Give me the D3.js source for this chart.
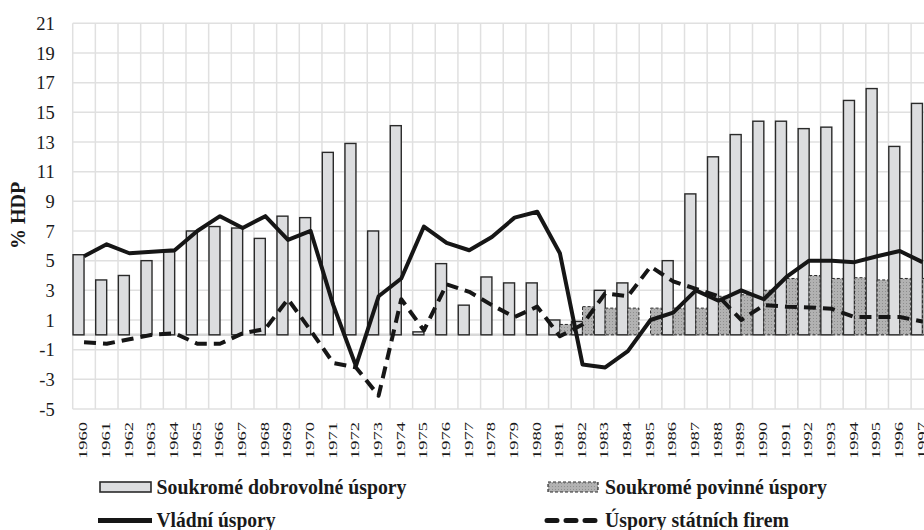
<!DOCTYPE html>
<html>
<head>
<meta charset="utf-8">
<script src="https://cdn.jsdelivr.net/npm/d3@7"></script>
<style>
  body { margin: 0; background: #fff; }
  svg { display: block; font-family: "Liberation Serif", "Times New Roman", serif; }
</style>
</head>
<body>
<div id="chart"></div>
<script>
// chart data (% HDP)
let years = ['1960','1961','1962','1963','1964','1965','1966','1967','1968','1969',
  '1970','1971','1972','1973','1974','1975','1976','1977','1978','1979',
  '1980','1981','1982','1983','1984','1985','1986','1987','1988','1989',
  '1990','1991','1992','1993','1994','1995','1996','1997'];

let voluntary = [5.4, 3.7, 4.0, 5.0, 5.6, 7.0, 7.3, 7.2, 6.5, 8.0,
  7.9, 12.3, 12.9, 7.0, 14.1, 0.2, 4.8, 2.0, 3.9, 3.5,
  3.5, 1.0, 0.9, 3.0, 3.5, 0.0, 5.0, 9.5, 12.0, 13.5,
  14.4, 14.4, 13.9, 14.0, 15.8, 16.6, 12.7, 15.6];

let mandatory = [null, null, null, null, null, null, null, null, null, null,
  null, null, null, null, null, null, null, null, null, null,
  null, 0.7, 1.9, 1.8, 1.8, 1.8, 1.8, 1.8, 2.6, 2.7,
  3.0, 3.8, 4.0, 3.8, 3.85, 3.7, 3.8, 3.8];

let government = [5.3, 6.1, 5.5, 5.6, 5.7, 7.0, 8.0, 7.2, 8.0, 6.4,
  7.0, 2.0, -2.1, 2.6, 3.8, 7.3, 6.2, 5.7, 6.6, 7.9,
  8.3, 5.5, -2.0, -2.2, -1.1, 1.0, 1.5, 3.0, 2.3, 3.0,
  2.4, 3.9, 5.0, 5.0, 4.9, 5.3, 5.65, 4.9];

let stateFirms = [-0.5, -0.6, -0.3, 0.0, 0.1, -0.6, -0.6, 0.1, 0.4, 2.4,
  0.3, -1.9, -2.2, -4.1, 2.4, 0.3, 3.4, 2.9, 2.0, 1.2,
  1.9, -0.1, 0.7, 2.8, 2.6, 4.6, 3.6, 3.1, 2.6, 1.0,
  2.0, 1.9, 1.85, 1.75, 1.2, 1.2, 1.2, 0.9];

let yTicks = [-5, -3, -1, 1, 3, 5, 7, 9, 11, 13, 15, 17, 19, 21];

let legendItems = [
  { label: 'Soukromé dobrovolné úspory', kind: 'vol' },
  { label: 'Soukromé povinné úspory', kind: 'man' },
  { label: 'Vládní úspory', kind: 'gov' },
  { label: 'Úspory státních firem', kind: 'firm' }
];

let svgWidth = 924;
let svgHeight = 530;

let margin = { top: 23.3, left: 72.7 };
let step = 22.66;
let plotHeight = 409 - margin.top;

let svg = d3.select('#chart')
  .append('svg')
  .attr('width', svgWidth)
  .attr('height', svgHeight);

let x = d3.scaleBand()
  .domain(years)
  .range([margin.left, margin.left + step * years.length]);

let xInner = d3.scaleBand()
  .domain(['vol', 'man'])
  .range([0, x.bandwidth()])
  .paddingOuter(0.03);

let y = d3.scaleLinear()
  .domain([-5, 21])
  .range([margin.top + plotHeight, margin.top]);

// grid
let grid = svg.append('g');
grid.selectAll('.hgrid')
  .data(yTicks)
  .enter()
  .append('line')
  .attr('x1', margin.left)
  .attr('x2', svgWidth + 20)
  .attr('y1', d => y(d))
  .attr('y2', d => y(d))
  .attr('stroke', '#e0e0e0')
  .attr('stroke-width', 1.5);

grid.selectAll('.vgrid')
  .data(years.concat(['end']))
  .enter()
  .append('line')
  .attr('x1', (d, i) => margin.left + i * step)
  .attr('x2', (d, i) => margin.left + i * step)
  .attr('y1', y(21))
  .attr('y2', y(-5))
  .attr('stroke', '#e0e0e0')
  .attr('stroke-width', 1.5);

// zero line
svg.append('line')
  .attr('x1', margin.left)
  .attr('x2', svgWidth + 20)
  .attr('y1', y(0))
  .attr('y2', y(0))
  .attr('stroke', '#d8d8d8')
  .attr('stroke-width', 2.5);

// bars
let bars = svg.append('g');
bars.selectAll('.vol')
  .data(years)
  .enter()
  .append('rect')
  .attr('x', d => x(d) + xInner('vol'))
  .attr('width', xInner.bandwidth())
  .attr('y', (d, i) => y(Math.max(0, voluntary[i])))
  .attr('height', (d, i) => Math.abs(y(voluntary[i]) - y(0)))
  .attr('fill', '#dcdddf')
  .attr('stroke', '#2a2a2a')
  .attr('stroke-width', 1.4);

let manData = years.map((d, i) => ({ year: d, v: mandatory[i] })).filter(d => d.v !== null);

let defs = svg.append('defs');
let pat = defs.append('pattern')
  .attr('id', 'dots')
  .attr('width', 3)
  .attr('height', 3)
  .attr('patternUnits', 'userSpaceOnUse');
pat.append('rect').attr('width', 3).attr('height', 3).attr('fill', '#b2b2b2');
pat.append('rect').attr('width', 1).attr('height', 1).attr('fill', '#8e8e8e');

bars.selectAll('.man')
  .data(manData)
  .enter()
  .append('rect')
  .attr('x', d => x(d.year) + xInner('man'))
  .attr('width', xInner.bandwidth())
  .attr('y', d => y(Math.max(0, d.v)))
  .attr('height', d => Math.abs(y(d.v) - y(0)))
  .attr('fill', 'url(#dots)')
  .attr('stroke', '#2a2a2a')
  .attr('stroke-width', 1)
  .attr('stroke-dasharray', '3,2');

// lines
let cx = d => x(d) + x.bandwidth() / 2;

let valueLine = d3.line()
  .x((d, i) => cx(years[i]))
  .y(d => y(d));

svg.append('path')
  .datum(government)
  .attr('d', valueLine)
  .attr('fill', 'none')
  .attr('stroke', '#161616')
  .attr('stroke-width', 4)
  .attr('stroke-linejoin', 'round');

svg.append('path')
  .datum(stateFirms)
  .attr('d', valueLine)
  .attr('fill', 'none')
  .attr('stroke', '#161616')
  .attr('stroke-width', 4)
  .attr('stroke-dasharray', '12,7')
  .attr('stroke-linejoin', 'round');

// y axis labels
let leftAxis = d3.axisLeft(y)
  .tickValues(yTicks)
  .tickFormat(d => String(d))
  .tickSize(0)
  .tickPadding(0);

let yAxis = svg.append('g')
  .attr('transform', `translate(${margin.left - 18}, 0)`)
  .call(leftAxis)
  .attr('font-family', '"Liberation Serif", serif');
yAxis.select('.domain').remove();
yAxis.selectAll('text')
  .attr('font-size', '18.5px')
  .attr('fill', '#1a1a1a')
  .attr('dy', '0.33em');

svg.append('text')
  .attr('transform', 'translate(25, 215.5) rotate(-90)')
  .attr('text-anchor', 'middle')
  .attr('font-weight', 'bold')
  .attr('font-size', '20px')
  .attr('fill', '#1a1a1a')
  .text('% HDP');

// x labels, narrow glyphs
svg.append('g')
  .selectAll('text')
  .data(years)
  .enter()
  .append('text')
  .attr('transform', d => `translate(${cx(d) - 1}, 422) rotate(-90) scale(1, 0.66)`)
  .attr('text-anchor', 'end')
  .attr('dy', '0.35em')
  .attr('font-size', '18.5px')
  .attr('fill', '#1a1a1a')
  .text(d => d);

// legend
let legendPos = [
  { x: 100, y: 487, tx: 156.5, tw: 250 },
  { x: 547, y: 487, tx: 605, tw: 222 },
  { x: 100, y: 520.5, tx: 156.5, tw: 119 },
  { x: 547, y: 520.5, tx: 605, tw: 184 }
];

let legend = svg.append('g');
legendItems.forEach(function(item, i) {
  let p = legendPos[i];
  if (item.kind === 'vol') {
    legend.append('rect')
      .attr('x', p.x).attr('y', p.y - 5).attr('width', 51).attr('height', 10)
      .attr('fill', '#dcdddf').attr('stroke', '#2a2a2a').attr('stroke-width', 1.6);
  } else if (item.kind === 'man') {
    legend.append('rect')
      .attr('x', p.x + 1).attr('y', p.y - 5).attr('width', 50).attr('height', 10)
      .attr('fill', 'url(#dots)').attr('stroke', '#2a2a2a').attr('stroke-width', 1.2)
      .attr('stroke-dasharray', '3,2');
  } else if (item.kind === 'gov') {
    legend.append('line')
      .attr('x1', p.x - 2).attr('x2', p.x + 52).attr('y1', p.y).attr('y2', p.y)
      .attr('stroke', '#161616').attr('stroke-width', 5);
  } else {
    legend.append('line')
      .attr('x1', p.x).attr('x2', p.x + 53).attr('y1', p.y).attr('y2', p.y)
      .attr('stroke', '#161616').attr('stroke-width', 5)
      .attr('stroke-linecap', 'round')
      .attr('stroke-dasharray', '10,9');
  }
  legend.append('text')
    .attr('x', p.tx)
    .attr('y', p.y + 6.5)
    .attr('font-weight', 'bold')
    .attr('font-size', '20px')
    .attr('fill', '#1a1a1a')
    .attr('textLength', p.tw)
    .attr('lengthAdjust', 'spacingAndGlyphs')
    .text(item.label);
});
</script>
</body>
</html>
